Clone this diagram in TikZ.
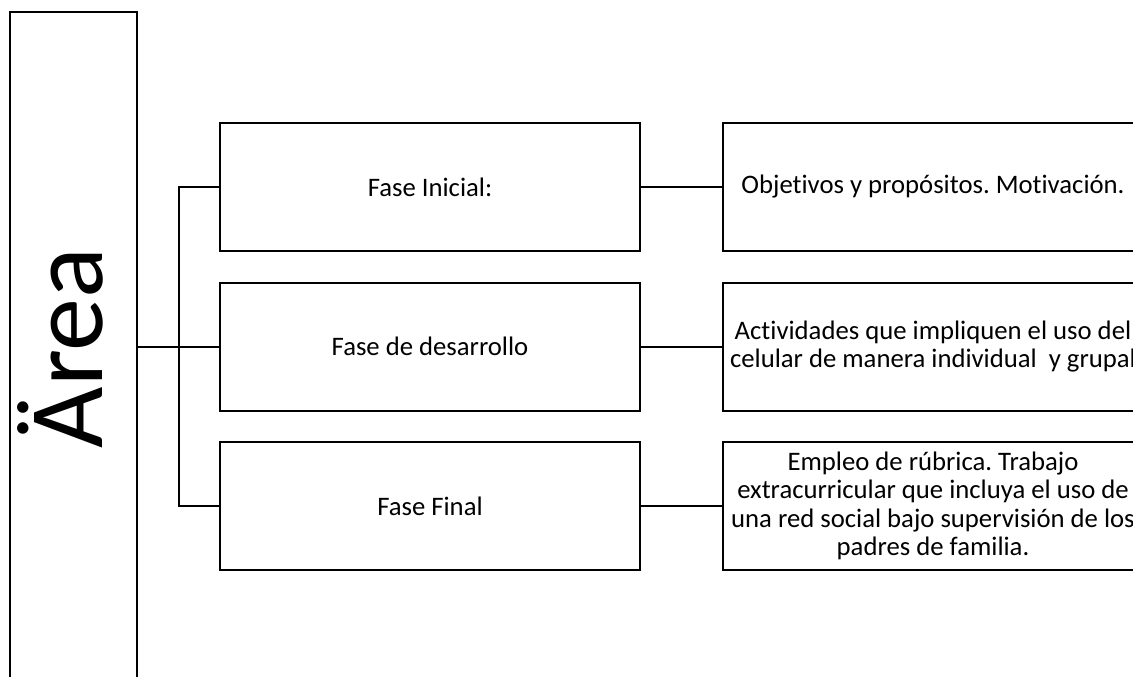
\documentclass[tikz,border=0pt]{standalone}
\usepackage{fontspec}
\setmainfont{Carlito}[Ligatures={NoCommon}]
\frenchspacing
\begin{document}
\begin{tikzpicture}[x=1pt,y=-1pt,
  box/.style={draw=black,line width=2pt,minimum width=420pt,minimum height=128pt,inner sep=0pt,align=center,
    font=\fontsize{26.7}{28.3}\selectfont},
  link/.style={draw=black,line width=2pt}]
\useasboundingbox (0,0) rectangle (1133,677);
\clip (0,0) rectangle (1133,677);
% left tall box
\node[draw=black,line width=2pt,minimum width=127pt,minimum height=700pt,inner sep=0pt] (area) at (73.5,362) {};
\node[rotate=90,anchor=base,inner sep=0pt,font=\fontsize{106}{110}\selectfont] (areatxt) at (102,348) {Ärea};
% phase boxes
\node[box] (f1) at (430,187) {Fase Inicial:};
\node[box] (f2) at (430,346.5) {Fase de desarrollo};
\node[box] (f3) at (430,506) {Fase Final};
% description boxes
\node[box] (d1) at (933,187) {Objetivos y propósitos. Motivación.};
\node[box] (d2) at (933,346.5) {Actividades que impliquen el uso del\\celular de manera individual\ \ y grupal};
\node[box] (d3) at (933,506) {Empleo de rúbrica. Trabajo\\extracurricular que incluya el uso de\\una red social bajo supervisión de los\\padres de familia.};
% connectors
\draw[link] (area.east |- f2.west) -- (f2.west);
\draw[link] (f1.west) -- ++(-40,0) |- (f3.west);
\draw[link] (f1.east) -- (d1.west);
\draw[link] (f2.east) -- (d2.west);
\draw[link] (f3.east) -- (d3.west);
\end{tikzpicture}
\end{document}
